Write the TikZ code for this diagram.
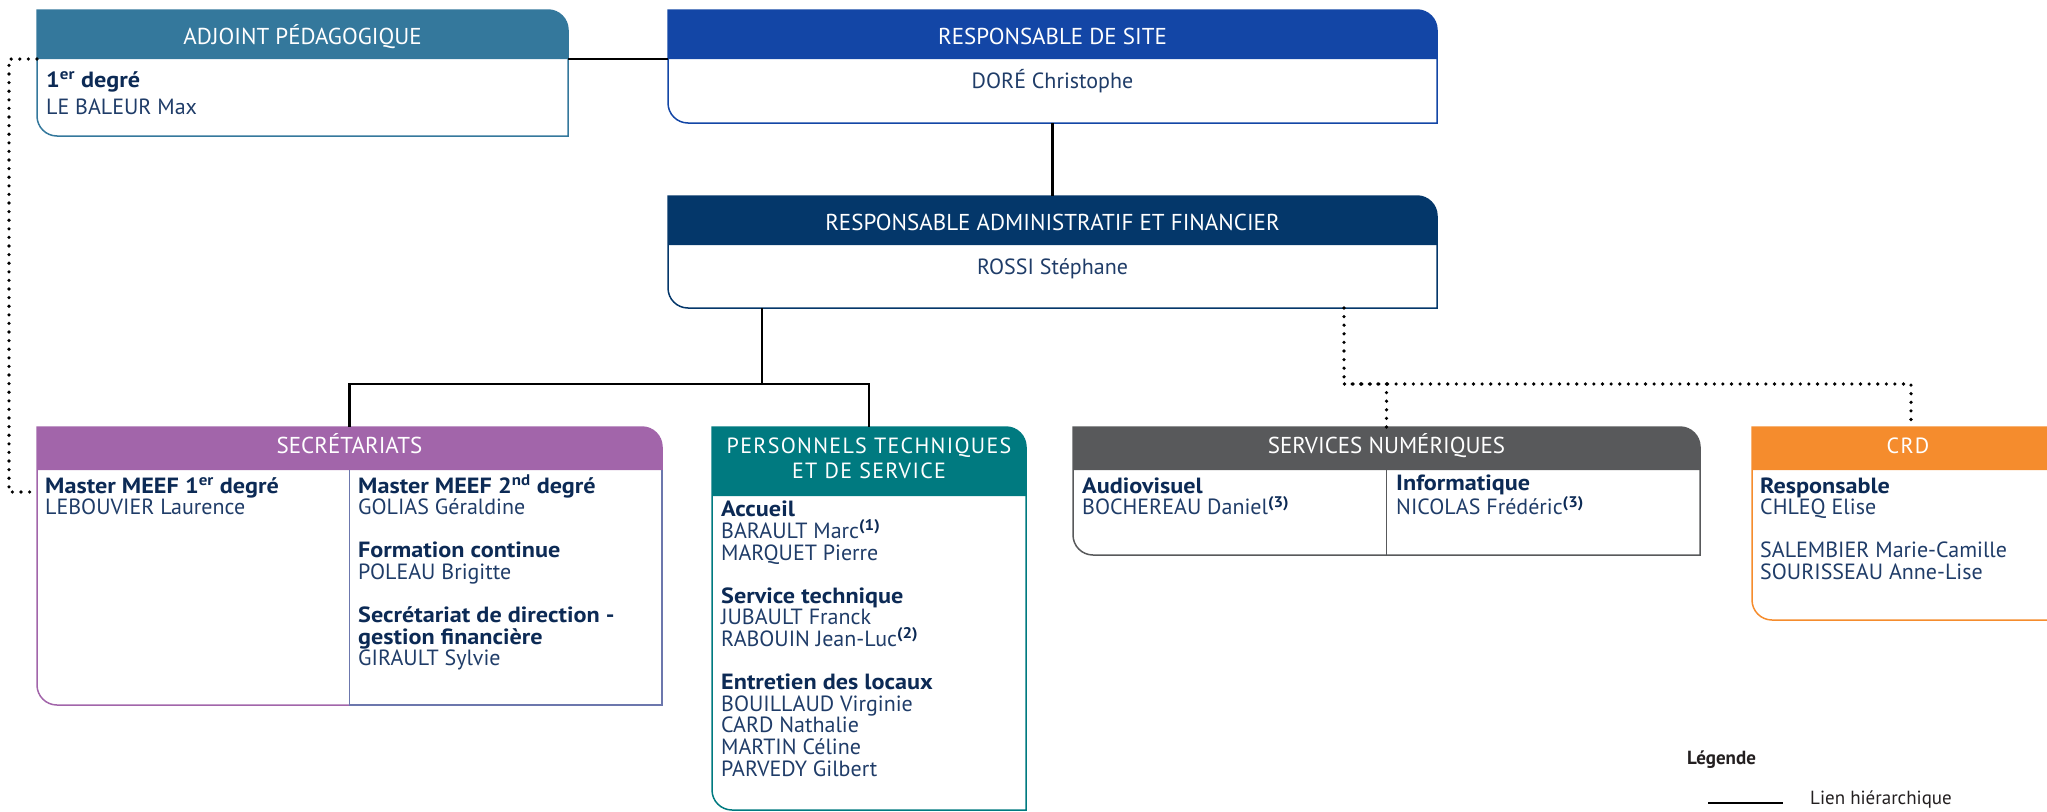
\documentclass[tikz,border=0pt]{standalone}
\usepackage{fontspec}
\setmainfont{PT Sans}

\definecolor{adjblue}{HTML}{34789C}
\definecolor{rdsblue}{HTML}{1346A6}
\definecolor{rafnavy}{HTML}{04376A}
\definecolor{secrmauve}{HTML}{A265AA}
\definecolor{secrslate}{HTML}{6C77AD}
\definecolor{persteal}{HTML}{007A80}
\definecolor{sngrey}{HTML}{58595B}
\definecolor{crdorange}{HTML}{F58C2D}
\definecolor{namecol}{HTML}{1F3C68}
\definecolor{labcol}{HTML}{0C2A55}
\definecolor{legdark}{HTML}{231F20}

% box outline: node, colour, header height
\newcommand\orgframe[3]{%
  \fill[#2] (#1.north west) -- ([xshift=-20pt]#1.north east) arc[start angle=-90, end angle=0, radius=20]
    -- ([yshift=-#3pt]#1.north east) -- ([yshift=-#3pt]#1.north west) -- cycle;
  \draw[#2, line width=1.5pt] (#1.north west) -- ([xshift=-20pt]#1.north east) arc[start angle=-90, end angle=0, radius=20]
    -- (#1.south east) -- ([xshift=20pt]#1.south west) arc[start angle=90, end angle=180, radius=20] -- cycle;
}
\newcommand\lbl[1]{{\color{labcol}\bfseries\addfontfeature{FakeStretch=1.1}#1}}

\begin{document}
\begin{tikzpicture}[x=1pt,y=-1pt,
  box/.style={inner sep=0pt, outer sep=0pt},
  title/.style={anchor=base, inner sep=0pt, text=white, align=center, font=\fontsize{23}{25}\selectfont},
  body/.style={anchor=base west, inner sep=0pt, align=left, text=namecol, font=\fontsize{22}{21.6}\selectfont},
  hier/.style={line width=2.6pt},
  fonct/.style={line width=3.6pt, line cap=round, dash pattern=on 0pt off 8.6pt}]
\clip (0,0) rectangle (2047,811);

\node[box, minimum width=531pt, minimum height=126pt] (adj) at (302.5,73) {};
\node[box, minimum width=769pt, minimum height=113pt] (rds) at (1052.5,66.5) {};
\node[box, minimum width=769pt, minimum height=112pt] (raf) at (1052.5,252) {};
\node[box, minimum width=625pt, minimum height=278pt] (secr) at (349.5,566) {};
\node[box, minimum width=314pt, minimum height=383pt] (pers) at (869,618.5) {};
\node[box, minimum width=627pt, minimum height=128pt] (sn) at (1386.5,491) {};
\node[box, minimum width=318pt, minimum height=193pt] (crd) at (1911,523.5) {};

\orgframe{adj}{adjblue}{49}
\orgframe{rds}{rdsblue}{49}
\orgframe{raf}{rafnavy}{49}
\orgframe{secr}{secrmauve}{43}
\orgframe{pers}{persteal}{69}
\orgframe{sn}{sngrey}{43}
\orgframe{crd}{crdorange}{43}
\draw[secrslate, line width=1.5pt] ([yshift=-43pt]secr.north) -- (secr.south) -- (secr.south east) -- ([yshift=-43pt]secr.north east);
\draw[sngrey, line width=1.5pt] ([yshift=-43pt]sn.north) -- (sn.south);

\node[title] (adj-t) at (302.5,44) {ADJOINT PÉDAGOGIQUE};
\node[title] (rds-t) at (1052.5,44) {RESPONSABLE DE SITE};
\node[title] (raf-t) at (1052.5,230.5) {RESPONSABLE ADMINISTRATIF ET FINANCIER};
\node[title] (secr-t) at (349.5,453) {SECRÉTARIATS};
\node[title, font=\fontsize{22}{25}\selectfont\addfontfeature{LetterSpace=6}] (pers-t) at (869,478) {PERSONNELS TECHNIQUES\\ET DE SERVICE};
\node[title] (sn-t) at (1386.5,453) {SERVICES NUMÉRIQUES};
\node[title, font=\fontsize{22}{25}\selectfont\addfontfeature{LetterSpace=6}] (crd-t) at (1908,453) {CRD};

% multi-line nodes sit on their last line
\node[body] (adj-c) at (46,114) {\lbl{1\textsuperscript{er} degré}\\[5.4pt]LE BALEUR Max};
\node[body, anchor=base] (rds-c) at (1052.5,88) {DORÉ Christophe};
\node[body, anchor=base] (raf-c) at (1052.5,274) {ROSSI Stéphane};
\node[body] (secr-c1) at (45,514.6) {\lbl{Master MEEF 1\textsuperscript{er} degré}\\LEBOUVIER Laurence};
\node[body] (secr-c2) at (358,665.8) {\lbl{Master MEEF 2\textsuperscript{nd} degré}\\GOLIAS Géraldine\\[21.6pt]
  \lbl{Formation continue}\\POLEAU Brigitte\\[21.6pt]
  \lbl{Secrétariat de direction -}\\\lbl{gestion financière}\\GIRAULT Sylvie};
\node[body] (pers-c) at (721,776) {\lbl{Accueil}\\BARAULT Marc\textsuperscript{\lbl{(1)}}\\MARQUET Pierre\\[21.6pt]
  \lbl{Service technique}\\JUBAULT Franck\\RABOUIN Jean-Luc\textsuperscript{\lbl{(2)}}\\[21.6pt]
  \lbl{Entretien des locaux}\\BOUILLAUD Virginie\\CARD Nathalie\\MARTIN Céline\\PARVEDY Gilbert};
\node[body] (sn-c1) at (1082,514.6) {\lbl{Audiovisuel}\\BOCHEREAU Daniel\textsuperscript{\lbl{(3)}}};
\node[body] (sn-c2) at (1396,514.6) {\lbl{Informatique}\\NICOLAS Frédéric\textsuperscript{\lbl{(3)}}};
\node[body] (crd-c) at (1760,579.4) {\lbl{Responsable}\\CHLEQ Elise\\[21.6pt]SALEMBIER Marie-Camille\\SOURISSEAU Anne-Lise};

% liens
\coordinate (fork) at (762,384);
\coordinate (nfork) at (1344,384);
\coordinate (lfork) at (9,492);
\draw[hier] ([yshift=-49pt]adj.north east) -- ([yshift=-49pt]rds.north west);
\draw[hier] (rds.south) -- (raf.north);
\draw[hier] (raf.south -| fork) -- (fork);
\draw[hier] (secr.north) |- (fork) -| (pers.north);
\draw[fonct] (raf.south -| nfork) -- (nfork);
\draw[fonct] (sn.north) |- (nfork) -| (crd.north);
\draw[fonct] ([yshift=-49pt]adj.north west) -| (lfork) -- (lfork -| secr.west);

% legende
\node[anchor=base west, inner sep=0pt, text=legdark, font=\fontsize{19}{22}\selectfont\bfseries] (leg) at (1687,764) {Légende};
\coordinate (lg-a) at (1708,803);
\coordinate (lg-b) at (1783,803);
\draw[hier] (lg-a) -- (lg-b);
\node[anchor=base west, inner sep=0pt, text=legdark, font=\fontsize{19}{22}\selectfont] (lien) at ([xshift=27pt, yshift=-1pt]lg-b) {Lien hiérarchique};
\end{tikzpicture}
\end{document}
